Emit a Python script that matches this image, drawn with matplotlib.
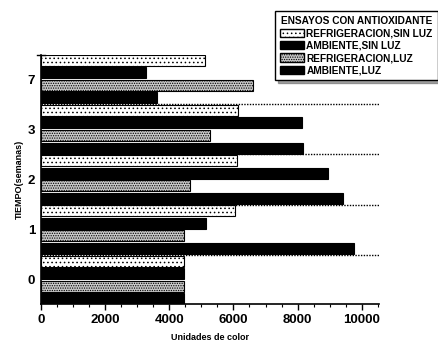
import numpy as np
import matplotlib
matplotlib.use("Agg")
import matplotlib.pyplot as plt
from matplotlib.patches import Patch
from matplotlib.ticker import MultipleLocator

# tiempo en semanas (categorias del eje y)
semanas = ["0", "1", "2", "3", "7"]

# unidades de color por ensayo
refrig_sin_luz = [4450, 6040, 6100, 6140, 5110]
ambiente_sin_luz = [4450, 5140, 8940, 8130, 3270]
refrig_luz = [4450, 4450, 4640, 5260, 6600]
ambiente_luz = [4450, 9750, 9410, 8160, 3610]

series = [
    ("REFRIGERACION,SIN LUZ", refrig_sin_luz, "white", "...."),
    ("AMBIENTE,SIN LUZ", ambiente_sin_luz, "black", None),
    ("REFRIGERACION,LUZ", refrig_luz, "#c8c8c8", "......."),
    ("AMBIENTE,LUZ", ambiente_luz, "black", None),
]

plt.rcParams["font.family"] = ["Liberation Sans", "DejaVu Sans"]
plt.rcParams["hatch.linewidth"] = 0.6

fig = plt.figure(figsize=(4.39, 3.41), dpi=100)
ax = fig.add_axes([0.093, 0.1085, 0.77, 0.7305])

y = np.arange(len(semanas))
h = 0.22
offsets = [0.375, 0.125, -0.125, -0.375]

handles = []
for (name, vals, fc, hatch), off in zip(series, offsets):
    ax.barh(y + off, vals, height=h, color=fc, edgecolor="black",
            hatch=hatch, linewidth=0.8)
    handles.append(Patch(facecolor=fc, edgecolor="black", hatch=hatch, label=name))

# separadores punteados entre grupos
for b in y[:-1] + 0.5:
    ax.axhline(b, color="black", linestyle=(0, (1, 1)), linewidth=1.0, clip_on=False)

ax.set_xlim(0, 10530)
ax.set_ylim(-0.48, len(semanas) - 0.52)
ax.set_yticks(y)
ax.set_yticklabels(semanas)
ax.xaxis.set_major_locator(MultipleLocator(2000))
ax.xaxis.set_minor_locator(MultipleLocator(500))

for s in ["top", "right"]:
    ax.spines[s].set_visible(False)
ax.spines["left"].set_linewidth(1.2)
ax.spines["bottom"].set_linewidth(1.2)
ax.tick_params(axis="x", which="major", length=4, width=1, labelsize=9.5)
ax.tick_params(axis="x", which="minor", length=2.5, width=0.8)
ax.tick_params(axis="y", length=0, labelsize=9.5, pad=4)
for t in ax.get_xticklabels() + ax.get_yticklabels():
    t.set_fontweight("bold")

# pequeña marca en el extremo superior del eje y
ax.plot([-0.012, 0.012], [1, 1], transform=ax.transAxes, color="black",
        linewidth=1.0, clip_on=False)

ax.set_xlabel("Unidades de color", fontsize=6.5, fontweight="bold", labelpad=5)
ax.set_ylabel("TIEMPO(semanas)", fontsize=6.5, fontweight="bold", labelpad=3)

leg = fig.legend(handles=handles, loc="upper right",
                 bbox_to_anchor=(0.997, 0.967),
                 title="ENSAYOS CON ANTIOXIDANTE",
                 prop={"size": 7.3, "weight": "bold"},
                 title_fontproperties={"size": 7.3, "weight": "bold"},
                 frameon=True, fancybox=False, shadow=True,
                 handlelength=2.4, handleheight=0.9, handletextpad=0.2,
                 labelspacing=0.22, borderpad=0.5, borderaxespad=0)
leg.get_frame().set_edgecolor("black")
leg.get_frame().set_linewidth(1.0)

fig.savefig("out.png", dpi=100)
